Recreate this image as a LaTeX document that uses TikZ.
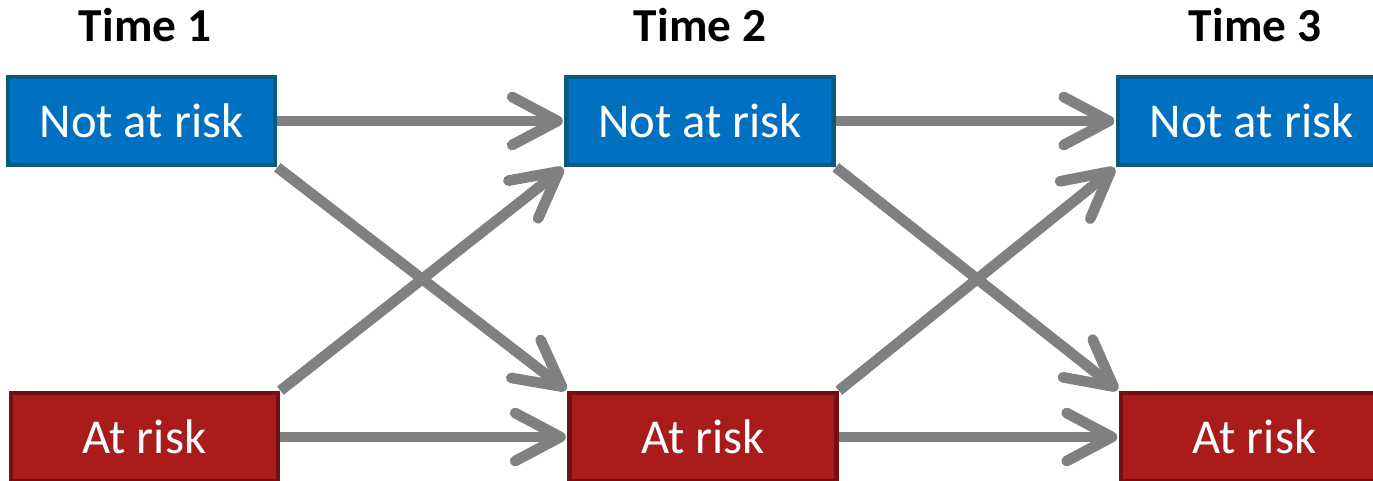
\documentclass[tikz,border=0pt]{standalone}
\usepackage{fontspec}
\setmainfont{Carlito}
\usetikzlibrary{arrows.meta}
\definecolor{boxblue}{RGB}{0,112,192}
\definecolor{blueedge}{RGB}{10,90,125}
\definecolor{boxred}{RGB}{170,28,28}
\definecolor{rededge}{RGB}{118,16,16}
\definecolor{arrowgray}{RGB}{128,128,128}
\tikzset{
  statebox/.style={draw, line width=3.5pt, minimum width=200.25pt, minimum height=66pt, inner sep=0pt, text=white, font=\fontsize{36.5}{40}\selectfont},
  notrisk/.style={statebox, fill=boxblue, draw=blueedge},
  atrisk/.style={statebox, fill=boxred, draw=rededge},
  timelabel/.style={font=\fontsize{35.5}{40}\selectfont\bfseries, inner sep=0pt},
  flow/.style={draw=arrowgray, line width=8pt, -{Straight Barb[length=34pt, width=36pt, round]}, shorten >=1pt}
}
\begin{document}
\begin{tikzpicture}[x=0.75pt, y=-0.75pt]
\useasboundingbox (0,0) rectangle (1373,481);
\node[timelabel] (t1) at (145,25) {Time 1};
\node[timelabel] (t2) at (700,25) {Time 2};
\node[timelabel] (t3) at (1255,25) {Time 3};
\node[notrisk] (n1) at (141.5,121) {Not at risk};
\node[notrisk] (n2) at (700,121) {Not at risk};
\node[notrisk] (n3) at (1251.5,121) {Not at risk};
\node[atrisk] (r1) at (144.5,437) {At risk};
\node[atrisk] (r2) at (703,437) {At risk};
\node[atrisk] (r3) at (1254.5,437) {At risk};
\draw[flow] (n1.east) -- (n2.west);
\draw[flow] (r1.east) -- (r2.west);
\draw[flow] (n1.south east) -- (r2.north west);
\draw[flow] (r1.north east) -- (n2.south west);
\draw[flow] (n2.east) -- (n3.west);
\draw[flow] (r2.east) -- (r3.west);
\draw[flow] (n2.south east) -- (r3.north west);
\draw[flow] (r2.north east) -- (n3.south west);
\end{tikzpicture}
\end{document}
